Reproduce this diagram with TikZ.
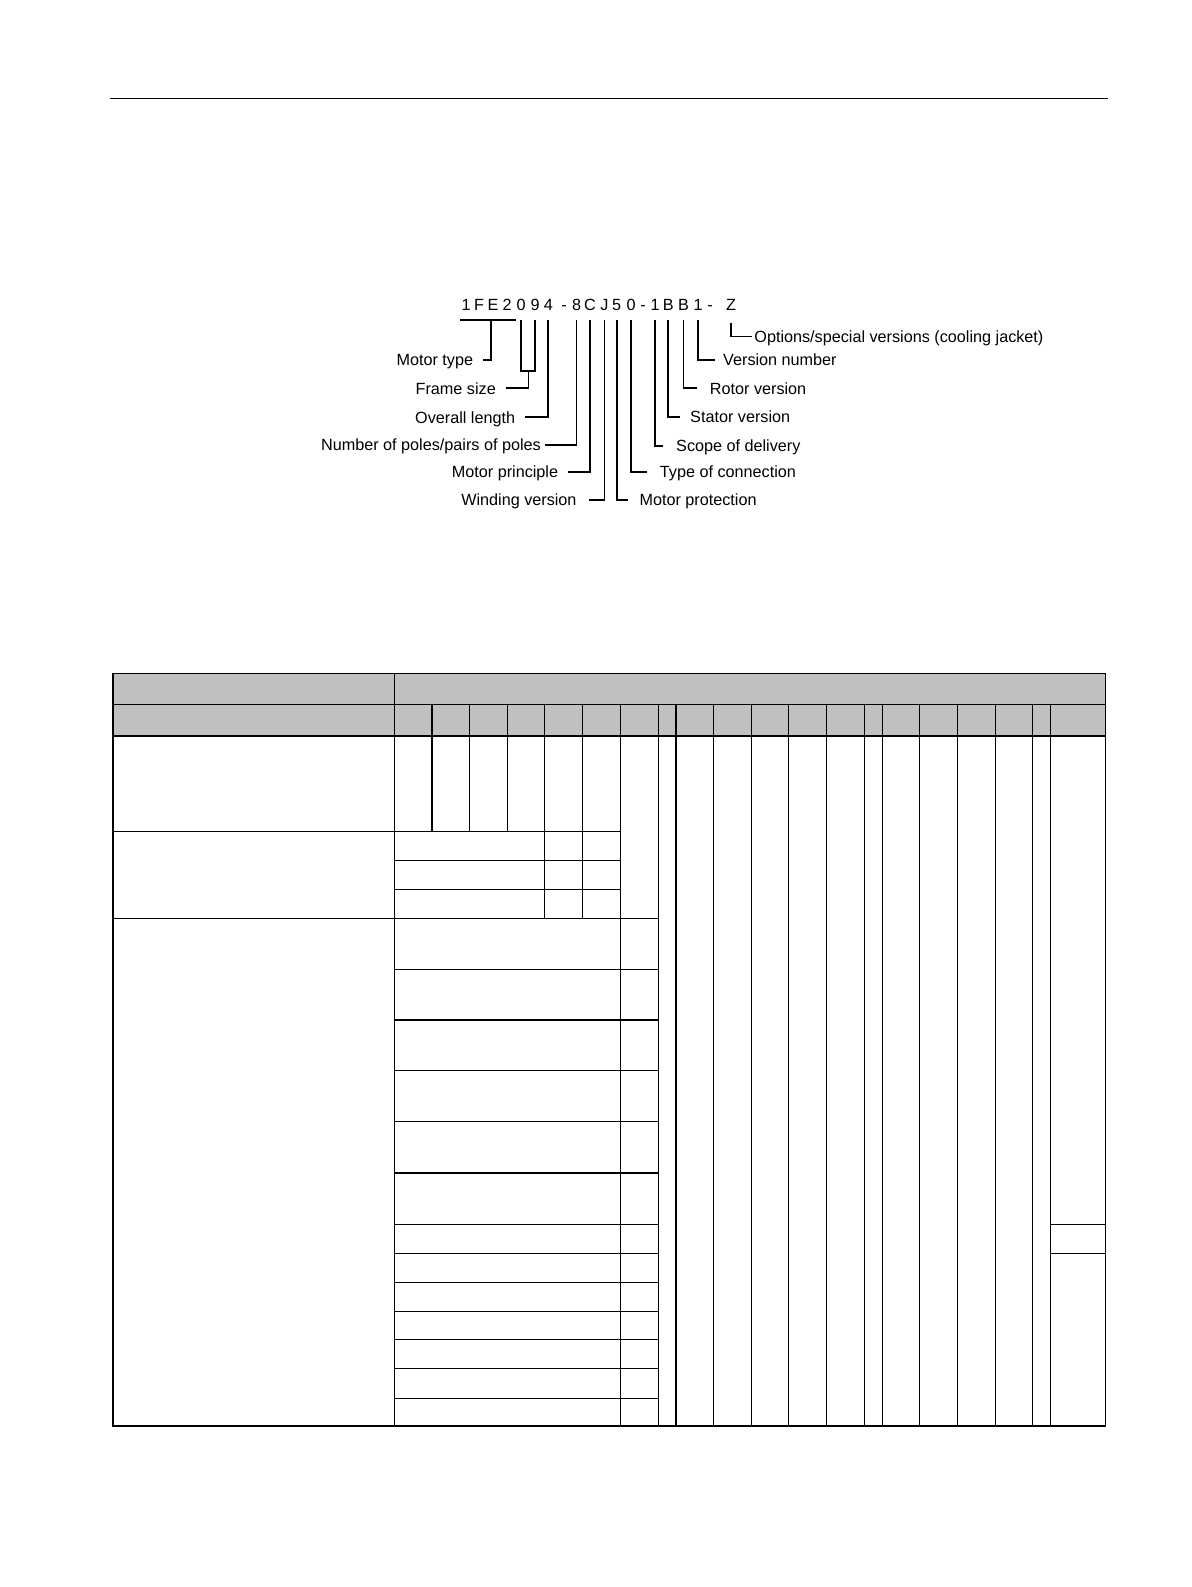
\documentclass[tikz,border=0pt]{standalone}
\usepackage{fontspec}
\setmainfont{Liberation Sans}
\definecolor{hdrgray}{RGB}{192,192,192}
\begin{document}
\begin{tikzpicture}[x=1pt,y=-1pt,
  lab/.style={font=\fontsize{16.2}{19}\selectfont, inner ysep=0pt, text height=11.6pt, text depth=0pt},
  labL/.style={lab, inner xsep=10pt, anchor=east},
  labR/.style={lab, inner xsep=11pt, anchor=west},
  codech/.style={lab, inner xsep=0pt, inner ysep=9.2pt},
  conn/.style={line width=1.7pt},
  gridline/.style={line width=1.2pt},
  thickrule/.style={line width=2.4pt}]
\useasboundingbox (0,0) rectangle (1191,1587);

% page header rule
\draw[gridline] (110,98.3) -- (1108,98.3);

% ---------- order code ----------
\node[codech] (c1)  at (466,305)   {1};
\node[codech] (c2)  at (479,305)   {F};
\node[codech] (c3)  at (493,305)   {E};
\node[codech] (c4)  at (507,305)   {2};
\node[codech] (c5)  at (521,305)   {0};
\node[codech] (c6)  at (535,305)   {9};
\node[codech] (c7)  at (548.3,305) {4};
\node[codech] (c8)  at (564,305)   {-};
\node[codech] (c9)  at (576.5,305) {8};
\node[codech] (c10) at (590,305)   {C};
\node[codech] (c11) at (604.5,305) {J};
\node[codech] (c12) at (616.7,305) {5};
\node[codech] (c13) at (631,305)   {0};
\node[codech] (c14) at (643,305)   {-};
\node[codech] (c15) at (655,305)   {1};
\node[codech] (c16) at (668.3,305) {B};
\node[codech] (c17) at (683.5,305) {B};
\node[codech] (c18) at (698,305)   {1};
\node[codech] (c19) at (710,305)   {-};
\node[codech, inner ysep=12pt] (c20) at (731,305) {Z};

% ---------- labels ----------
\node[labL] (lmt) at (483.3,360)   {Motor type};
\node[labL] (lfs) at (506,388.3)   {Frame size};
\node[labL] (lol) at (525.3,417.3) {Overall length};
\node[labL, inner xsep=4pt] (lnp) at (545,445) {Number of poles/pairs of poles};
\node[labL] (lmp) at (568.3,471.7) {Motor principle};
\node[labL, inner xsep=12pt] (lwv) at (588.7,500) {Winding version};
\node[labR] (lpr) at (628.3,500)   {Motor protection};
\node[labR, inner xsep=13pt] (ltc) at (646.7,471.7) {Type of connection};
\node[labR, inner xsep=13pt] (lsd) at (663,445.7)   {Scope of delivery};
\node[labR, inner xsep=10pt] (lsv) at (680,416.7)   {Stator version};
\node[labR, inner xsep=13pt] (lrv) at (696.7,388.3) {Rotor version};
\node[labR, inner xsep=8pt] (lvn) at (715,360)      {Version number};
\node[labR, inner xsep=2.5pt] (lop) at (751.7,336.5) {Options/special versions (cooling jacket)};

% ---------- connectors ----------
\coordinate (mtA) at (460,320);
\coordinate (mtB) at (515.7,320);
\coordinate (mtC) at (491.3,320);
\draw[conn] (mtA) -- (mtB);
\draw[conn] (mtC) |- (lmt.east);

\coordinate (fsj) at (528.5,370.7);
\draw[conn] (c5.south) |- (fsj) -| (c6.south);
\draw[conn] (fsj) |- (lfs.east);

\draw[conn] (c7.south)  |- (lol.east);
\draw[conn] (c9.south)  |- (lnp.east);
\draw[conn] (c10.south) |- (lmp.east);
\draw[conn] (c11.south) |- (lwv.east);
\draw[conn] (c12.south) |- (lpr.west);
\draw[conn] (c13.south) |- (ltc.west);
\draw[conn] (c15.south) |- (lsd.west);
\draw[conn] (c16.south) |- (lsv.west);
\draw[conn] (c17.south) |- (lrv.west);
\draw[conn] (c18.south) |- (lvn.west);
\draw[conn] (c20.south) |- (lop.west);

% ---------- table ----------
\fill[hdrgray] (113,673.3) rectangle (1105.5,735.7);

% header row 1/2 separator
\draw[gridline] (113,704.3) -- (1105.5,704.3);
% main vertical divider
\draw[gridline] (394.5,673.3) -- (394.5,1426);
% header sub-columns
\foreach \x in {432,469.6,507.5,544.6,582.5,620.4,658.2,676,713.7,751.7,788.7,826.7,864.7,882.7,919.7,957.7,995.7,1032.7,1050.5}
  \draw[gridline] (\x,704.3) -- (\x,735.7);

% body: row A only
\foreach \x in {432,469.6,507.5}
  \draw[gridline] (\x,735.7) -- (\x,831.3);
% body: rows A and B
\foreach \x in {544.6,582.5}
  \draw[gridline] (\x,735.7) -- (\x,918.3);
% body: full height
\foreach \x in {620.4,658.2,676,713.7,751.7,788.7,826.7,864.7,882.7,919.7,957.7,995.7,1032.7,1050.5}
  \draw[gridline] (\x,735.7) -- (\x,1426);

% horizontal rules
\draw[gridline] (113,831.3) -- (620.4,831.3);
\foreach \y in {860.3,889.3}
  \draw[gridline] (394.5,\y) -- (620.4,\y);
\draw[gridline] (113,918.3) -- (658.2,918.3);
\foreach \y in {969.3,1020,1070.7,1121.7,1173,1224.3,1253.3,1282.3,1311.3,1339.7,1368.5,1398.3}
  \draw[gridline] (394.5,\y) -- (658.2,\y);
\foreach \y in {1224.3,1253.3}
  \draw[gridline] (1050.5,\y) -- (1105.5,\y);

% thick rule under header
\draw[thickrule] (113,735.7) -- (1105.5,735.7);
% outer frame
\draw[gridline] (113,673.3) rectangle (1105.5,1426);
\end{tikzpicture}
\end{document}
